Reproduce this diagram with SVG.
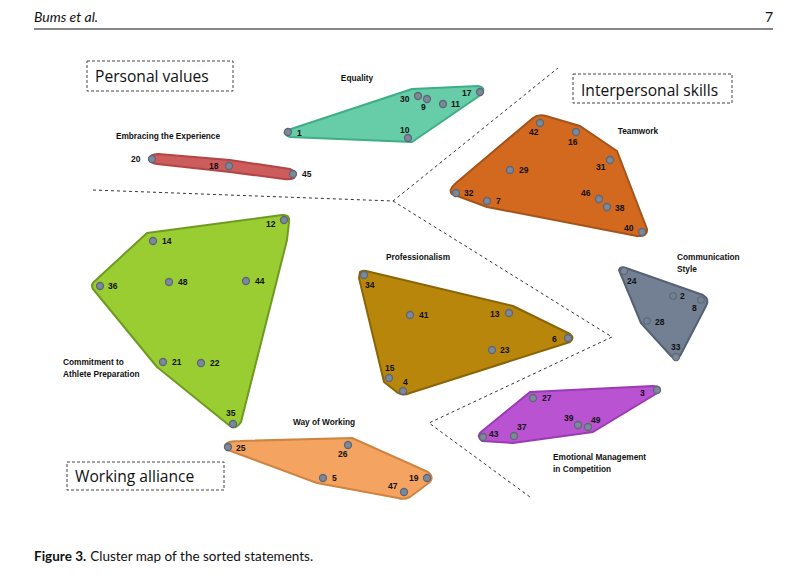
<svg xmlns="http://www.w3.org/2000/svg" width="812" height="579" viewBox="0 0 812 579">
<style>
.pt{fill:#7d8898;stroke:#5c6778;stroke-width:1.3}
.ptl{fill:none;stroke:#5c6778;stroke-width:1.1}
.n{font-family:"Liberation Sans",Arial,sans-serif;font-weight:bold;font-size:8.5px;fill:#111}
.cl{font-family:"Liberation Sans",Arial,sans-serif;font-weight:bold;font-size:8.3px;fill:#111}
.big{font-family:"Open Sans","Liberation Sans",sans-serif;font-size:15.6px;fill:#111}
.box{fill:none;stroke:#444;stroke-width:1;stroke-dasharray:3,2}
.dash{fill:none;stroke:#333;stroke-width:1;stroke-dasharray:3,3}
.hull{stroke-width:2;stroke-linejoin:round}
</style>
<rect width="812" height="579" fill="#fff"/>
<!-- header -->
<text x="34" y="22" font-family="Lato,'Liberation Sans',sans-serif" font-style="italic" font-size="14" fill="#111">Bums et al.</text>
<text x="773" y="22" font-family="Lato,'Liberation Sans',sans-serif" font-size="14" text-anchor="end" fill="#111">7</text>
<line x1="34" y1="29" x2="773" y2="29" stroke="#111" stroke-width="1.2"/>

<g id="connectors">
<polyline class="dash" points="93,190 393,201 558,68"/>
<polyline class="dash" points="393,201 612,337 429,423 530,497"/>
</g>

<g id="personal-values">
<rect class="box" x="87" y="61" width="146" height="30"/>
<text class="big" x="95" y="82">Personal values</text>
</g>
<g id="interpersonal-skills">
<rect class="box" x="573" y="74" width="159" height="29"/>
<text class="big" x="581" y="96">Interpersonal skills</text>
</g>
<g id="working-alliance">
<rect class="box" x="67" y="462" width="157" height="28"/>
<text class="big" x="75" y="482">Working alliance</text>
</g>

<g id="equality">
<path class="hull" fill="#66CDA8" stroke="#3fae86" d="M285,131 L412,89 L478,86 Q486,87 482,94 L412,142 L290,137 Q283,134 285,131 Z"/>
<circle class="pt" cx="288" cy="132" r="3.5"/>
<circle class="pt" cx="418" cy="96" r="3.5"/>
<circle class="pt" cx="427" cy="99" r="3.5"/>
<circle class="pt" cx="443" cy="104" r="3.5"/>
<circle class="pt" cx="480" cy="92" r="3.5"/>
<circle class="pt" cx="408" cy="138" r="3.5"/>
<text class="n" x="297" y="136">1</text>
<text class="n" x="400" y="102">30</text>
<text class="n" x="421" y="110">9</text>
<text class="n" x="451" y="107">11</text>
<text class="n" x="462" y="96">17</text>
<text class="n" x="400" y="133">10</text>
<text class="cl" x="357" y="81" text-anchor="middle">Equality</text>
</g>

<g id="embracing">
<path class="hull" fill="#CD5C5C" stroke="#b24545" d="M150,159 Q150,154 158,154 L230,160 L290,169 Q298,172 294,178 Q290,180 284,179 L230,172 L157,164 Q150,163 150,159 Z"/>
<circle class="pt" cx="152" cy="159" r="3.5"/>
<circle class="pt" cx="229" cy="166" r="3.5"/>
<circle class="pt" cx="293" cy="174" r="3.5"/>
<text class="n" x="131" y="162">20</text>
<text class="n" x="209" y="169">18</text>
<text class="n" x="302" y="177">45</text>
<text class="cl" x="168" y="139" text-anchor="middle">Embracing the Experience</text>
</g>

<g id="teamwork">
<path class="hull" fill="#D2691E" stroke="#a4531a" d="M533,118 Q538,114 546,116 L580,126 L617,151 L647,229 Q648,237 637,236 L487,207 L452,194 Q448,190 456,183 Z"/>
<circle class="pt" cx="540" cy="123" r="3.5"/>
<circle class="pt" cx="576" cy="132" r="3.5"/>
<circle class="pt" cx="610" cy="160" r="3.5"/>
<circle class="pt" cx="510" cy="170" r="3.5"/>
<circle class="pt" cx="456" cy="193" r="3.5"/>
<circle class="pt" cx="487" cy="201" r="3.5"/>
<circle class="pt" cx="599" cy="199" r="3.5"/>
<circle class="pt" cx="607" cy="207" r="3.5"/>
<circle class="pt" cx="642" cy="232" r="3.5"/>
<text class="n" x="529" y="135">42</text>
<text class="n" x="568" y="145">16</text>
<text class="n" x="596" y="170">31</text>
<text class="n" x="519" y="173">29</text>
<text class="n" x="464" y="196">32</text>
<text class="n" x="496" y="204">7</text>
<text class="n" x="581" y="196">46</text>
<text class="n" x="615" y="211">38</text>
<text class="n" x="624" y="231">40</text>
<text class="cl" x="638" y="134" text-anchor="middle">Teamwork</text>
</g>

<g id="commitment">
<path class="hull" fill="#9ACD32" stroke="#6f9a22" d="M147,233 L282,215 Q290,214 289,222 L287,240 L241,422 Q236,430 230,426 L157,367 L93,289 Q90,284 96,280 Z"/>
<circle class="pt" cx="284" cy="220" r="3.5"/>
<circle class="pt" cx="153" cy="241" r="3.5"/>
<circle class="pt" cx="100" cy="286" r="3.5"/>
<circle class="pt" cx="169" cy="282" r="3.5"/>
<circle class="pt" cx="246" cy="281" r="3.5"/>
<circle class="pt" cx="163" cy="362" r="3.5"/>
<circle class="pt" cx="201" cy="363" r="3.5"/>
<circle class="pt" cx="233" cy="424" r="3.5"/>
<text class="n" x="266" y="227">12</text>
<text class="n" x="162" y="244">14</text>
<text class="n" x="108" y="289">36</text>
<text class="n" x="178" y="285">48</text>
<text class="n" x="255" y="284">44</text>
<text class="n" x="172" y="365">21</text>
<text class="n" x="210" y="366">22</text>
<text class="n" x="226" y="416">35</text>
<text class="cl" x="63" y="365">Commitment to</text>
<text class="cl" x="63" y="377">Athlete Preparation</text>
</g>

<g id="professionalism">
<path class="hull" fill="#B8860B" stroke="#8a6508" d="M360,272 Q362,270 366,271 L513,306 L570,334 Q575,338 570,342 L410,393 Q403,396 398,393 L384,382 L359,278 Z"/>
<circle class="pt" cx="364" cy="275" r="3.5"/>
<circle class="pt" cx="410" cy="315" r="3.5"/>
<circle class="pt" cx="509" cy="313" r="3.5"/>
<circle class="pt" cx="568" cy="338" r="3.5"/>
<circle class="pt" cx="492" cy="350" r="3.5"/>
<circle class="pt" cx="389" cy="378" r="3.5"/>
<circle class="pt" cx="403" cy="391" r="3.5"/>
<text class="n" x="365" y="288">34</text>
<text class="n" x="419" y="318">41</text>
<text class="n" x="490" y="317">13</text>
<text class="n" x="552" y="342">6</text>
<text class="n" x="500" y="353">23</text>
<text class="n" x="385" y="371">15</text>
<text class="n" x="403" y="385">4</text>
<text class="cl" x="418" y="260" text-anchor="middle">Professionalism</text>
</g>

<g id="communication">
<path class="hull" fill="#738093" stroke="#566273" d="M619,270 Q620,266 626,268 L703,295 Q710,299 706,306 L680,356 Q676,361 671,356 L641,323 Z"/>
<circle class="pt" cx="624" cy="271" r="3.5"/>
<circle class="ptl" cx="673" cy="296" r="3.3"/>
<circle class="ptl" cx="701" cy="300" r="3.3"/>
<circle class="ptl" cx="647" cy="321" r="3.3"/>
<circle class="pt" cx="676" cy="357" r="3.5"/>
<text class="n" x="627" y="284">24</text>
<text class="n" x="680" y="299">2</text>
<text class="n" x="692" y="311">8</text>
<text class="n" x="655" y="325">28</text>
<text class="n" x="671" y="350">33</text>
<text class="cl" x="677" y="260">Communication</text>
<text class="cl" x="677" y="272">Style</text>
</g>

<g id="emotional">
<path class="hull" fill="#B953D1" stroke="#9a3bb4" d="M530,392 L653,386 Q662,386 659,392 L593,432 L513,443 L482,441 Q476,436 481,432 Z"/>
<circle class="pt" cx="533" cy="398" r="3.5"/>
<circle class="pt" cx="657" cy="390" r="3.5"/>
<circle class="pt" cx="578" cy="425" r="3.5"/>
<circle class="pt" cx="588" cy="427" r="3.5"/>
<circle class="pt" cx="483" cy="437" r="3.5"/>
<circle class="pt" cx="514" cy="436" r="3.5"/>
<text class="n" x="542" y="401">27</text>
<text class="n" x="640" y="396">3</text>
<text class="n" x="564" y="421">39</text>
<text class="n" x="591" y="423">49</text>
<text class="n" x="489" y="437">43</text>
<text class="n" x="517" y="430">37</text>
<text class="cl" x="553" y="460">Emotional Management</text>
<text class="cl" x="553" y="472">in Competition</text>
</g>

<g id="way-of-working">
<path class="hull" fill="#F4A460" stroke="#cf8442" d="M226,444 Q228,441 240,441 L352,438 L428,472 Q434,477 430,482 L410,497 Q404,500 398,498 L317,483 L228,450 Q223,447 226,444 Z"/>
<circle class="pt" cx="228" cy="447" r="3.5"/>
<circle class="pt" cx="348" cy="445" r="3.5"/>
<circle class="pt" cx="323" cy="478" r="3.5"/>
<circle class="pt" cx="427" cy="478" r="3.5"/>
<circle class="pt" cx="404" cy="492" r="3.5"/>
<text class="n" x="236" y="451">25</text>
<text class="n" x="338" y="457">26</text>
<text class="n" x="332" y="481">5</text>
<text class="n" x="409" y="481">19</text>
<text class="n" x="388" y="489">47</text>
<text class="cl" x="324" y="425" text-anchor="middle">Way of Working</text>
</g>

<text x="34" y="561" font-family="Lato,'Liberation Sans',sans-serif" font-size="13.5" fill="#111"><tspan font-weight="bold">Figure 3.</tspan><tspan dx="4">Cluster map of the sorted statements.</tspan></text>
</svg>
